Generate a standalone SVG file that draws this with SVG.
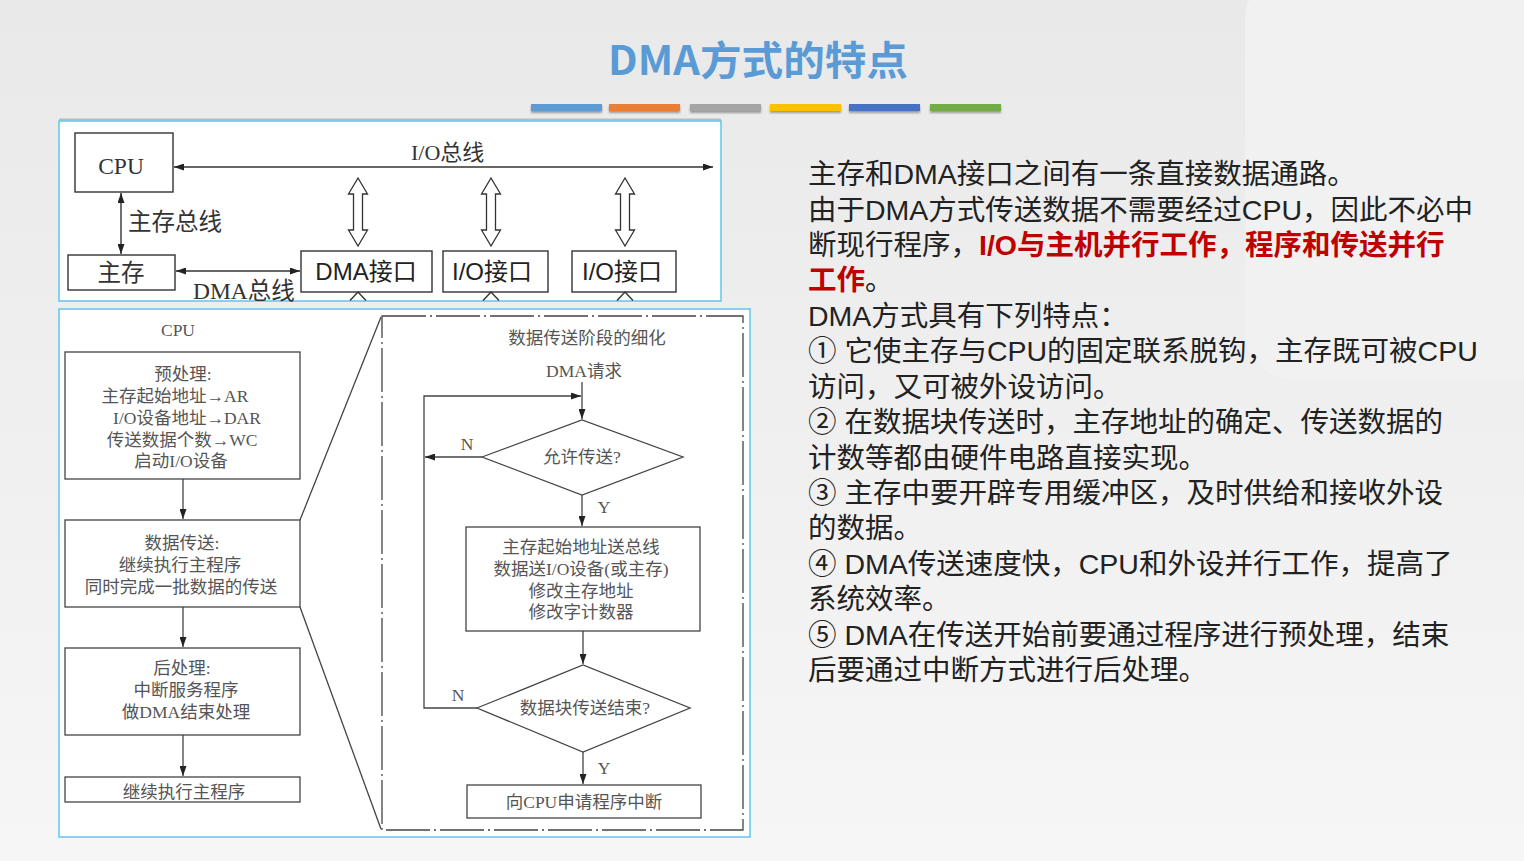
<svg xmlns="http://www.w3.org/2000/svg" width="1524" height="861" viewBox="0 0 1524 861">
<defs>
  <linearGradient id="bg" x1="0" y1="0" x2="0" y2="1">
    <stop offset="0" stop-color="#e9e9e9"/>
    <stop offset="1" stop-color="#f6f6f6"/>
  </linearGradient>
  <marker id="ah" viewBox="0 0 10 7" refX="10" refY="3.5" markerWidth="10" markerHeight="7" markerUnits="userSpaceOnUse" orient="auto-start-reverse">
    <path d="M0,0 L10,3.5 L0,7 z" fill="#222"/>
  </marker>
  <filter id="sh" x="-10%" y="-50%" width="120%" height="250%">
    <feDropShadow dx="0" dy="2" stdDeviation="1.2" flood-color="#000" flood-opacity="0.35"/>
  </filter>
  <style>
    .panel{fill:#fff;stroke:#5cc6ee;stroke-width:1.5}
    .box{fill:#fff;stroke:#333;stroke-width:1.4}
    .fbox{fill:none;stroke:#444;stroke-width:1.3}
    .ln{fill:none;stroke:#333;stroke-width:1.4}
    .fl{fill:none;stroke:#444;stroke-width:1.3}
    .hol{fill:#fff;stroke:#333;stroke-width:1.3}
    .serif{font-family:"Liberation Serif","Noto Sans CJK SC",serif;fill:#333}
    .sans{font-family:"Liberation Sans","Noto Sans CJK SC",sans-serif;fill:#222}
    .fc{font-family:"Liberation Serif","Noto Sans CJK SC",serif;fill:#555;font-size:17.5px;text-anchor:middle}
    .body{font-family:"Liberation Sans","Noto Sans CJK SC",sans-serif;font-size:28.5px;fill:#222}
    .red{fill:#c00000;font-weight:bold}
  </style>
</defs>

<rect x="0" y="0" width="1524" height="861" fill="url(#bg)"/>
<rect x="1245" y="-30" width="320" height="410" rx="50" fill="#f1f1f1"/>

<g id="title">
  <text x="608" y="75" font-family="Noto Sans CJK SC, sans-serif" font-weight="bold" font-size="40" fill="#5b9bd5" textLength="300" lengthAdjust="spacingAndGlyphs">DMA方式的特点</text>
  <g filter="url(#sh)">
    <rect x="531" y="104" width="71" height="7" fill="#5b9bd5"/>
    <rect x="609" y="104" width="71" height="7" fill="#ed7d31"/>
    <rect x="690" y="104" width="71" height="7" fill="#a5a5a5"/>
    <rect x="770" y="104" width="71" height="7" fill="#ffc000"/>
    <rect x="849" y="104" width="71" height="7" fill="#4472c4"/>
    <rect x="930" y="104" width="71" height="7" fill="#70ad47"/>
  </g>
</g>

<!-- Top structure diagram -->
<g id="top-panel">
  <line x1="59" y1="119.5" x2="721" y2="119.5" stroke="#bbb" stroke-width="2"/>
  <rect class="panel" x="59" y="121" width="662" height="180"/>
</g>
<g id="cpu"><rect class="box" x="75" y="133" width="98" height="59"/><text class="serif" x="121" y="174" font-size="23.5" text-anchor="middle">CPU</text></g>
<g id="mem"><rect class="box" x="68" y="255" width="107" height="35"/><text class="serif" x="121" y="281" font-size="23.5" text-anchor="middle">主存</text></g>
<g id="dma-if"><rect class="box" x="301" y="251" width="131" height="41"/><text class="sans" x="366" y="280" font-size="24" text-anchor="middle">DMA接口</text></g>
<g id="io-if1"><rect class="box" x="443" y="251" width="105" height="41"/><text class="sans" x="492" y="280" font-size="24" text-anchor="middle">I/O接口</text></g>
<g id="io-if2"><rect class="box" x="572" y="251" width="104" height="41"/><text class="sans" x="622" y="280" font-size="24" text-anchor="middle">I/O接口</text></g>

<g id="top-connectors">
  <line class="ln" x1="174" y1="167" x2="713" y2="167" marker-start="url(#ah)" marker-end="url(#ah)"/>
  <line class="ln" x1="121" y1="193" x2="121" y2="254" marker-start="url(#ah)" marker-end="url(#ah)"/>
  <line class="ln" x1="176" y1="271" x2="300" y2="271" marker-start="url(#ah)" marker-end="url(#ah)"/>
  <path class="hol" d="M358,178 L367.5,194 L362.5,194 L362.5,230 L367.5,230 L358,246 L348.5,230 L353.5,230 L353.5,194 L348.5,194 Z"/>
  <path class="hol" d="M491,178 L500.5,194 L495.5,194 L495.5,230 L500.5,230 L491,246 L481.5,230 L486.5,230 L486.5,194 L481.5,194 Z"/>
  <path class="hol" d="M625,178 L634.5,194 L629.5,194 L629.5,230 L634.5,230 L625,246 L615.5,230 L620.5,230 L620.5,194 L615.5,194 Z"/>
  <polyline class="ln" points="350,300.5 358,292 366,300.5"/>
  <polyline class="ln" points="483,300.5 491,292 499,300.5"/>
  <polyline class="ln" points="617,300.5 625,292 633,300.5"/>
  <text class="serif" x="411" y="160" font-size="22">I/O总线</text>
  <text class="serif" x="128" y="230" font-size="23.5">主存总线</text>
  <text class="serif" x="193" y="299" font-size="23.5">DMA总线</text>
</g>

<!-- Bottom flow diagram -->
<g id="bottom-panel">
  <rect class="panel" x="59" y="309" width="691" height="528"/>
</g>
<g id="cpu-label"><text class="fc" x="178" y="336">CPU</text></g>
<g id="pre"><rect class="fbox" x="65" y="352" width="235" height="127"/>
  <text class="fc" x="183" y="380">预处理:</text>
  <text class="fc" x="175" y="402">主存起始地址→AR</text>
  <text class="fc" x="187" y="424">I/O设备地址→DAR</text>
  <text class="fc" x="182" y="446">传送数据个数→WC</text>
  <text class="fc" x="181" y="467">启动I/O设备</text>
</g>
<g id="transfer"><rect class="fbox" x="65" y="520" width="235" height="87"/>
  <text class="fc" x="182" y="549">数据传送:</text>
  <text class="fc" x="180" y="571">继续执行主程序</text>
  <text class="fc" x="181" y="593">同时完成一批数据的传送</text>
</g>
<g id="post"><rect class="fbox" x="65" y="648" width="235" height="87"/>
  <text class="fc" x="182" y="674">后处理:</text>
  <text class="fc" x="186" y="696">中断服务程序</text>
  <text class="fc" x="186" y="718">做DMA结束处理</text>
</g>
<g id="cont"><rect class="fbox" x="65" y="777" width="235" height="25"/>
  <text class="fc" x="184" y="798">继续执行主程序</text>
</g>

<g id="detail-frame">
  <rect x="382" y="316" width="361" height="514" fill="none" stroke="#444" stroke-width="1.3" stroke-dasharray="44 4 2 4"/>
  <text class="fc" x="587" y="344">数据传送阶段的细化</text>
  <text class="fc" x="584" y="377">DMA请求</text>
</g>
<g id="allow"><polygon class="fbox" points="482,457 582,420 683,457 582,495"/><text class="fc" x="582" y="463">允许传送?</text></g>
<g id="ops"><rect class="fbox" x="466" y="527" width="234" height="104"/>
  <text class="fc" x="581" y="553">主存起始地址送总线</text>
  <text class="fc" x="581" y="575">数据送I/O设备(或主存)</text>
  <text class="fc" x="581" y="597">修改主存地址</text>
  <text class="fc" x="581" y="618">修改字计数器</text>
</g>
<g id="done"><polygon class="fbox" points="477,708 583,665 690,708 583,752"/><text class="fc" x="585" y="714">数据块传送结束?</text></g>
<g id="irq"><rect class="fbox" x="467" y="785" width="234" height="33"/><text class="fc" x="584" y="808">向CPU申请程序中断</text></g>

<g id="flow-connectors">
  <line class="fl" x1="183" y1="479" x2="183" y2="519" marker-end="url(#ah)"/>
  <line class="fl" x1="183" y1="607" x2="183" y2="647" marker-end="url(#ah)"/>
  <line class="fl" x1="183" y1="735" x2="183" y2="776" marker-end="url(#ah)"/>
  <line class="fl" x1="300" y1="520" x2="381" y2="317"/>
  <line class="fl" x1="300" y1="607" x2="381" y2="829"/>
  <line class="fl" x1="582" y1="382" x2="582" y2="419" marker-end="url(#ah)"/>
  <polyline class="fl" points="477,708 424,708 424,396 581,396" marker-end="url(#ah)"/>
  <line class="fl" x1="482" y1="457" x2="425" y2="457" marker-end="url(#ah)"/>
  <line class="fl" x1="582" y1="495" x2="582" y2="526" marker-end="url(#ah)"/>
  <line class="fl" x1="583" y1="631" x2="583" y2="664" marker-end="url(#ah)"/>
  <line class="fl" x1="583" y1="752" x2="583" y2="784" marker-end="url(#ah)"/>
  <text class="fc" x="467" y="450">N</text>
  <text class="fc" x="604" y="513">Y</text>
  <text class="fc" x="458" y="701">N</text>
  <text class="fc" x="604" y="774">Y</text>
</g>

<g id="description">
  <text class="body" x="808" y="184">主存和DMA接口之间有一条直接数据通路。</text>
  <text class="body" x="808" y="220">由于DMA方式传送数据不需要经过CPU，因此不必中</text>
  <text class="body" x="808" y="255">断现行程序，<tspan class="red">I/O与主机并行工作，程序和传送并行</tspan></text>
  <text class="body" x="808" y="290"><tspan class="red">工作</tspan>。</text>
  <text class="body" x="808" y="326">DMA方式具有下列特点：</text>
  <text class="body" x="808" y="361">① 它使主存与CPU的固定联系脱钩，主存既可被CPU</text>
  <text class="body" x="808" y="397">访问，又可被外设访问。</text>
  <text class="body" x="808" y="432">② 在数据块传送时，主存地址的确定、传送数据的</text>
  <text class="body" x="808" y="468">计数等都由硬件电路直接实现。</text>
  <text class="body" x="808" y="503">③ 主存中要开辟专用缓冲区，及时供给和接收外设</text>
  <text class="body" x="808" y="538">的数据。</text>
  <text class="body" x="808" y="574">④ DMA传送速度快，CPU和外设并行工作，提高了</text>
  <text class="body" x="808" y="609">系统效率。</text>
  <text class="body" x="808" y="645">⑤ DMA在传送开始前要通过程序进行预处理，结束</text>
  <text class="body" x="808" y="680">后要通过中断方式进行后处理。</text>
</g>
</svg>
